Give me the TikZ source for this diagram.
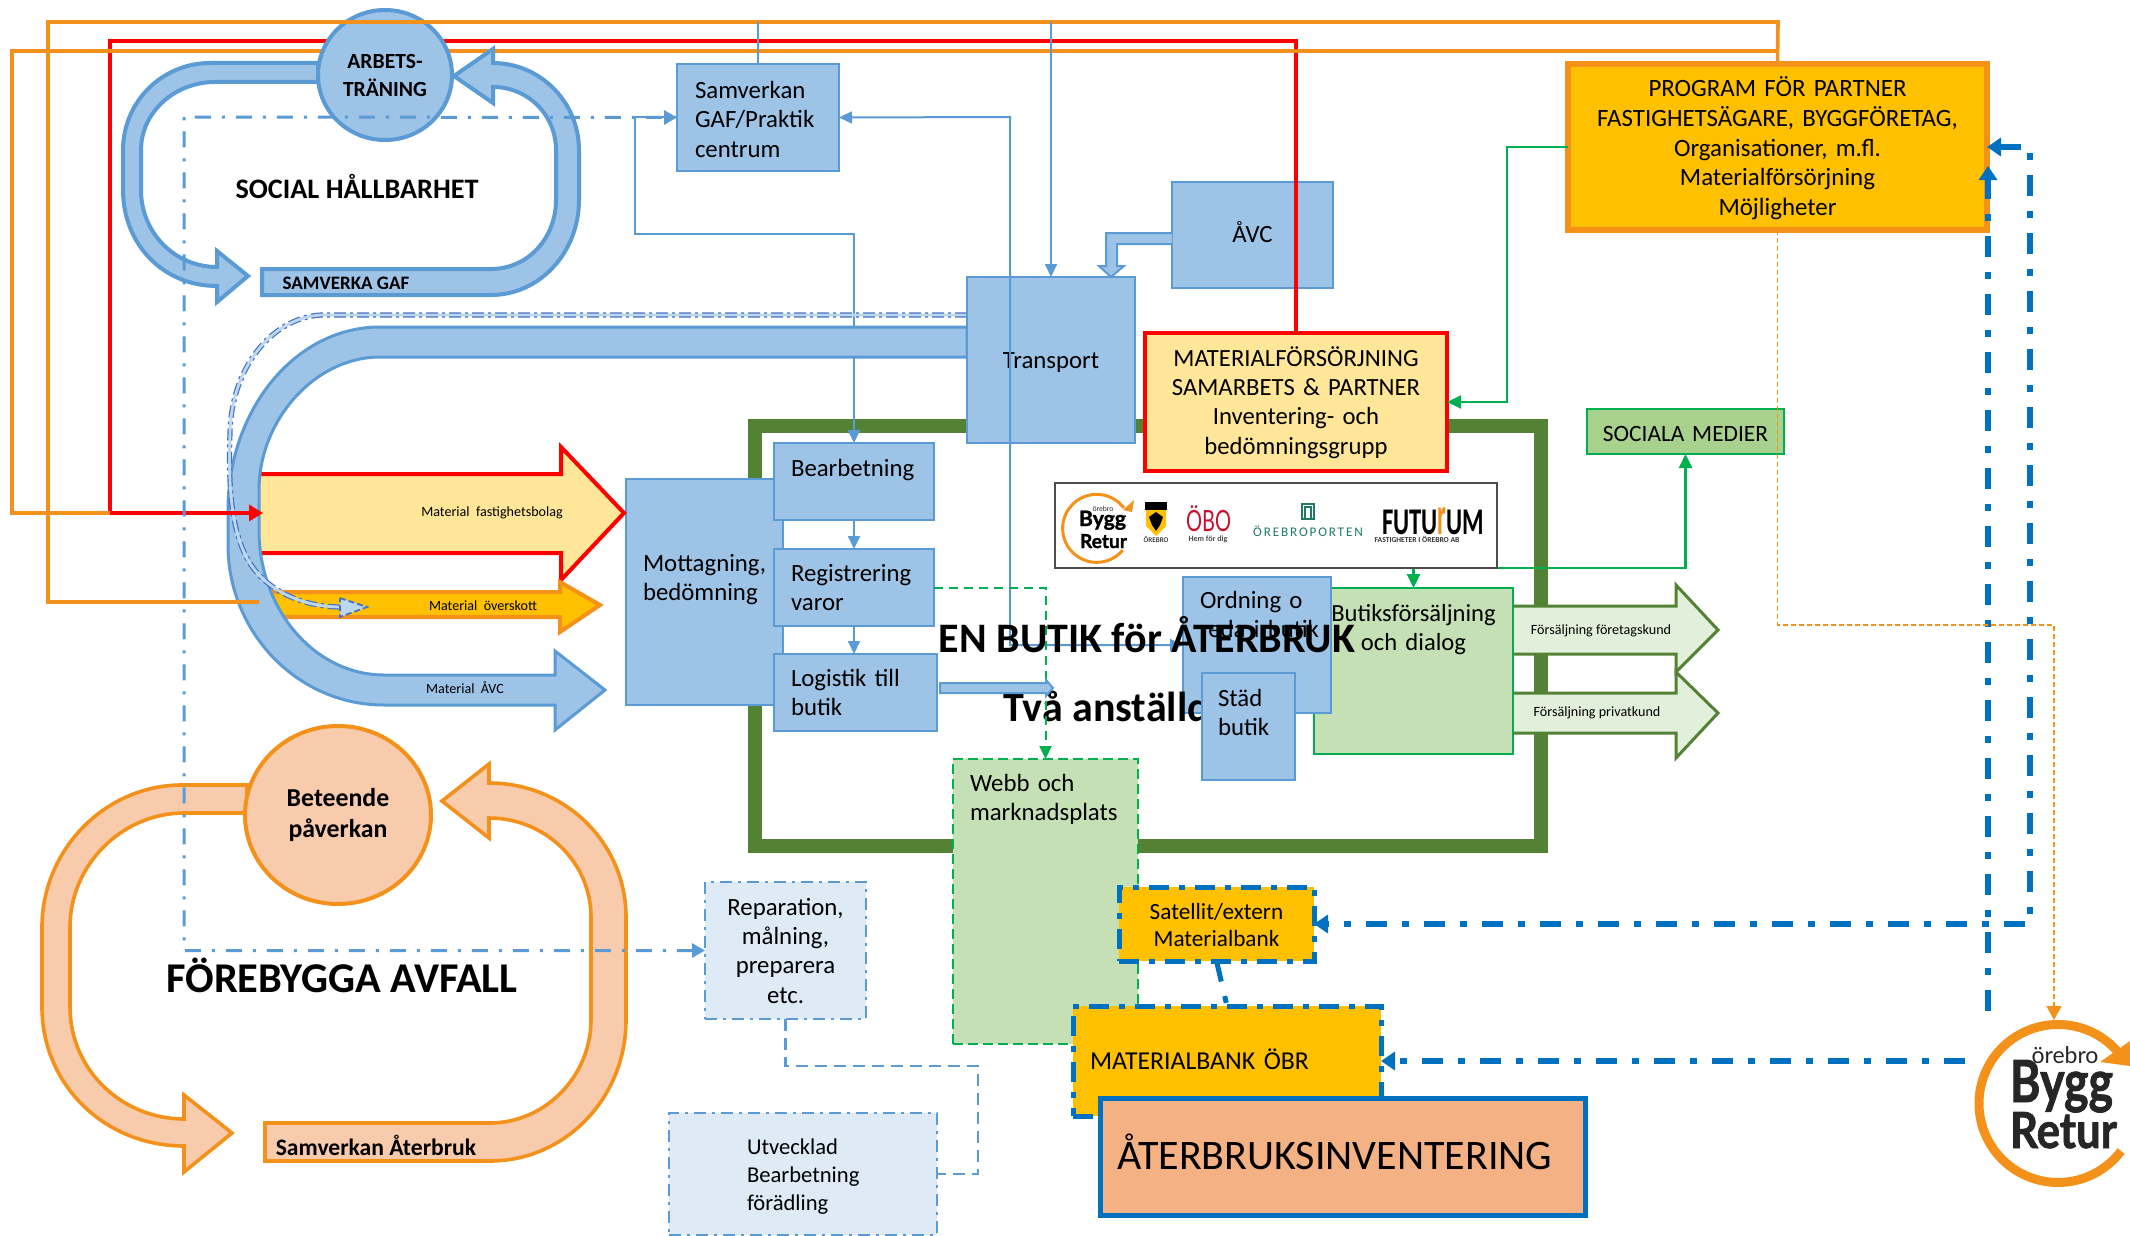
\documentclass[tikz,border=0pt]{standalone}
\usepackage{fontspec}
\usepackage{graphicx}
\setmainfont{Carlito}
\newfontfamily\logofont{Lato}
\newfontfamily\heavyfont{Lato}[BoldFeatures={FakeBold=1.5}]
\newfontfamily\spacedfont[LetterSpace=14]{Carlito}
\usetikzlibrary{arrows.meta,shapes.geometric}
\definecolor{bfill}{HTML}{9DC3E6}
\definecolor{bline}{HTML}{5B9BD5}
\definecolor{bpale}{HTML}{DEEBF7}
\definecolor{dblue}{HTML}{0070C0}
\definecolor{indigo}{HTML}{4472C4}
\definecolor{glass}{HTML}{BDD7EE}
\definecolor{forest}{HTML}{548235}
\definecolor{gfill}{HTML}{C5E0B4}
\definecolor{gmid}{HTML}{A9D18E}
\definecolor{gpale}{HTML}{E2EFDA}
\definecolor{gline}{HTML}{00B050}
\definecolor{orng}{HTML}{F4911A}
\definecolor{amber}{HTML}{FFC000}
\definecolor{pyellow}{HTML}{FFE699}
\definecolor{peach}{HTML}{F8CBAD}
\definecolor{salmon}{HTML}{F4B183}
\definecolor{teal}{HTML}{1F7A68}
\definecolor{crimson}{HTML}{C8102E}
\definecolor{rubric}{HTML}{FF0000}
\newcommand{\bx}[9]{%
  \pgfmathsetmacro\bxw{(#5-#3)*0.5}%
  \pgfmathsetmacro\bxh{(#7+1.5-#4)*0.5}%
  \pgfmathsetmacro\bxd{(#6-#7-1.5)*0.5}%
  \pgfmathsetmacro\bxl{#8*0.5}%
  \pgfmathsetmacro\bxcx{(#3+#5)/2}%
  \pgfmathsetmacro\bxcy{(#4+#6)/2}%
  \node[inner sep=0pt,outer sep=0pt,text width=\bxw pt,text height=\bxh pt,text depth=\bxd pt,#1] (#2) at (\bxcx,\bxcy) {#9};%
}
\newcommand{\fs}[2]{\fontsize{#1}{#2}\selectfont}
\tikzset{
  tleft/.style={execute at begin node={\leftskip=\bxl pt\rightskip=0pt plus 1fil\relax}},
  tmid/.style={align=center},
  bluebox/.style={draw=bline,fill=bfill,line width=1pt,font=\fs{12.4}{14.7}},
  linkb/.style={draw=bline,line width=1pt},
  tipb/.style={-{Triangle[length=6.5pt,width=6pt]}},
  linkg/.style={draw=gline,line width=1pt},
  thickblue/.style={draw=dblue,line width=3pt,dash pattern=on 10.5pt off 7.5pt on 3.5pt off 7.5pt},
  paledash/.style={draw=bline,line width=1.5pt,dash pattern=on 8pt off 5.5pt on 1.5pt off 5.5pt},
  paleedge/.style={draw=bline,line width=1pt,fill=bpale,dash pattern=on 6pt off 3pt on 1.5pt off 3pt},
  bloop/.style={draw=bline,fill=bfill,line width=2pt,line join=miter},
  oloop/.style={draw=orng,fill=peach,line width=1.8pt,line join=miter},
  wide/.style={line width=2pt,line join=miter},
  small/.style={font=\fs{7.05}{8}},
  logotext/.style={inner sep=0pt,outer sep=0pt,anchor=base},
}
\begin{document}
\begin{tikzpicture}[x=0.5pt,y=-0.5pt]
\path[use as bounding box,fill=white] (0,0) rectangle (2130,1236);
\clip (0,0) rectangle (2130,1236);
% named free coordinates
\coordinate (topA) at (1778,22);
\coordinate (topRed) at (110,41);
\coordinate (topB) at (12,51);
\coordinate (redIn) at (263,513);
\coordinate (orIn) at (259,602);
\coordinate (xdash) at (184,117);
\coordinate (xmid) at (1010,117);
\coordinate (xsamv) at (635,234);
\coordinate (xgreen) at (1507,146);
\coordinate (ysoc) at (1000,568);
\coordinate (xthick) at (2030,147);
\coordinate (bl1) at (1988,1011);
\coordinate (bl2) at (1988,166);
\coordinate (bl3) at (1965,1061);
\coordinate (logotop) at (2054,1020);
\coordinate (dashturn) at (2054,625);
\coordinate (repturn) at (978,1066);

% green frame
\draw[forest,line width=7pt] (755,426) rectangle (1541,846);

% processing column
\bx{bluebox,tleft}{motta}{626}{479}{783}{705}{570}{17}{Mottagning,\\bedömning}
\bx{bluebox,tleft}{bearb}{774}{443}{934}{520}{475}{17}{Bearbetning}
\bx{bluebox,tleft}{regis}{774}{549}{934}{626}{580}{17}{Registrering\\varor}
\bx{bluebox,tleft}{logis}{774}{654}{937}{731}{685}{17}{Logistik till\\butik}
\draw[linkb,tipb] (bearb.south) -- (regis.north);
\draw[linkb,tipb] (regis.south) -- (regis.south |- logis.north);

% material arrows behind the band
\draw[draw=rubric,fill=pyellow,line width=2pt,line join=miter] (245,474) -- (561,474) -- (561,447) -- (624,513) -- (561,580) -- (561,553) -- (245,553);
\node[small,anchor=center] (matfast) at (492,513) {Material\ \ fastighetsbolag};
\draw[draw=orng,fill=amber,wide] (250,592) -- (560,592) -- (560,582) -- (600,605) -- (560,632) -- (560,617) -- (250,617) -- cycle;
\node[small,anchor=center] (matover) at (483,606) {Material\ \ överskott};

% Samverkan box and its links to the process
\bx{bluebox,tleft}{samv}{677}{64}{839}{171}{97}{18}{Samverkan\\GAF/Praktik\\centrum}
\draw[linkb,tipb] (samv.west) -- (samv.west -| xsamv) -- (xsamv) -- (xsamv -| bearb.north) -- (bearb.north);

% big U band
\draw[bloop,line width=1.5pt] (967,327) -- (380,327) .. controls (295,327) and (228,410) .. (228,510) -- (228,545) .. controls (228,632) and (297,705) .. (384,705) -- (555,705) -- (555,730) -- (605,690) -- (555,651) -- (555,675) -- (384,675) .. controls (315,675) and (259,610) .. (259,530) -- (259,490) .. controls (259,420) and (315,357) .. (380,357) -- (967,357) -- cycle;
\node[small,anchor=center] (matavc) at (465,688) {Material\ \ ÅVC};

% double dash-dot transport route
\draw[draw=indigo,line width=2.6pt,dash pattern=on 6pt off 2pt on 1.5pt off 2pt] (967,315) -- (321,315) .. controls (270,318) and (231,370) .. (230,433) .. controls (228,490) and (232,532) .. (248,560) .. controls (262,585) and (295,607) .. (342,607);
\draw[draw=glass,line width=1.4pt] (967,315) -- (321,315) .. controls (270,318) and (231,370) .. (230,433) .. controls (228,490) and (232,532) .. (248,560) .. controls (262,585) and (295,607) .. (342,607);
\draw[draw=indigo,fill=glass,line width=0.9pt,dash pattern=on 3pt off 1.5pt] (340,598) -- (367,607) -- (340,617) -- cycle;

% transport
\bx{bluebox,tmid}{transp}{967}{277}{1135}{443}{367}{0}{Transport}
\bx{bluebox,tmid}{avc}{1172}{182}{1333}{288}{241}{0}{ÅVC}
\bx{draw=rubric,fill=pyellow,line width=2pt,tmid,font=\fs{12.35}{14.6}}{mat}{1145}{333}{1447}{471}{365}{0}{MATERIALFÖRSÖRJNING\\SAMARBETS \& PARTNER\\Inventering- och\\bedömningsgrupp}
\bx{draw=orng,fill=amber,line width=2.7pt,tmid,font=\fs{12.45}{14.9}}{prog}{1568}{64}{1987}{230}{95}{0}{PROGRAM FÖR PARTNER\\FASTIGHETSÄGARE, BYGGFÖRETAG,\\Organisationer, m.fl.\\Materialförsörjning\\Möjligheter}
\draw[draw=bline,fill=bfill,line width=1pt] (avc.west |- 0,233) -- (1106,233) -- (1106,266) -- (1099,266) -- (1111,277) -- (1124,266) -- (1117,266) -- (1117,244) -- (avc.west |- 0,244);

% red and lower orange routes
\draw[draw=rubric,line width=1.7pt,-{Triangle[length=7pt,width=8pt]}] (mat.north) -- (mat.north |- topRed) -- (topRed) -- (topRed |- redIn) -- (redIn);
\draw[draw=orng,line width=1.8pt] (prog.north) -- (prog.north |- topB) -- (topB) -- (topB |- redIn) -- (topRed |- redIn);

% social loop
\draw[bloop] (318,63) -- (210,63) .. controls (162,63) and (123,102) .. (123,150) -- (123,190) .. controls (123,243) and (162,286) .. (217,286) -- (217,302) -- (248,276) -- (217,251) -- (217,267) .. controls (175,267) and (141,233) .. (141,190) -- (141,150) .. controls (141,112) and (175,82) .. (215,82) -- (318,82) -- cycle;
\draw[bloop] (262,295) -- (491,295) .. controls (540,295) and (579,252) .. (579,200) -- (579,150) .. controls (579,102) and (540,63) .. (493,63) -- (493,49) -- (454,76) -- (493,103) -- (493,87) .. controls (528,87) and (556,115) .. (556,150) -- (556,200) .. controls (556,238) and (528,269) .. (491,269) -- (262,269) -- cycle;
\node[ellipse,draw=bline,fill=bfill,line width=2pt,inner sep=0pt,minimum width=67pt,minimum height=65pt,align=center,font=\fs{10.8}{14}\bfseries] (arbets) at (385,75) {ARBETS-\\TRÄNING};
\node[anchor=center,font=\fs{14.1}{16}\bfseries] (socialh) at (357,186) {SOCIAL HÅLLBARHET};
\node[anchor=center,font=\fs{9.5}{11}\bfseries] (samvgaf) at (346,283) {SAMVERKA GAF};

% upper orange route, over the ellipse
\draw[draw=orng,line width=1.8pt] (prog.north) -- (topA) -- (topA -| 48,0) -- (48,0 |- orIn) -- (orIn);

% links from Samverkan
\draw[linkb] (topA -| samv.north) -- (samv.north);
\draw[linkb,tipb] (topA -| transp.north) -- (transp.north);

% prevention loop
\draw[oloop] (247,785) -- (182,785) .. controls (105,785) and (42,850) .. (42,927) -- (42,1007) .. controls (42,1085) and (105,1146) .. (184,1146) -- (184,1172) -- (232,1133) -- (184,1095) -- (184,1119) .. controls (122,1119) and (70,1070) .. (70,1007) -- (70,927) .. controls (70,865) and (122,813) .. (184,813) -- (247,813) -- cycle;
\draw[oloop] (265,1161) -- (490,1161) .. controls (565,1161) and (626,1098) .. (626,1020) -- (626,917) .. controls (626,843) and (565,783) .. (489,783) -- (489,764) -- (442,801) -- (489,838) -- (489,818) .. controls (545,818) and (591,862) .. (591,917) -- (591,1020) .. controls (591,1076) and (545,1123) .. (490,1123) -- (265,1123) -- cycle;
\node[ellipse,draw=orng,fill=peach,line width=2pt,inner sep=0pt,minimum width=93pt,minimum height=89pt,align=center,font=\fs{12.9}{15.5}\bfseries] (beteende) at (338,815) {Beteende\\påverkan};
\node[anchor=center,font=\fs{21.2}{23}\bfseries] (forebygga) at (342,975) {FÖREBYGGA AVFALL};
\node[anchor=center,font=\fs{11.8}{13}\bfseries] (samvat) at (376,1145) {Samverkan Återbruk};

% pale boxes and dash-dot link
\bx{paleedge,tmid,font=\fs{12.4}{14.6}}{repar}{705}{882}{866}{1019}{914}{0}{Reparation,\\målning,\\preparera\\etc.}
\bx{paleedge,tleft,font=\fs{11.3}{14}}{utv}{669}{1113}{937}{1235}{1153}{78}{Utvecklad\\Bearbetning\\förädling}
\draw[paledash,{Triangle[length=6.5pt,width=7pt]}-{Triangle[length=6.5pt,width=7pt]}] (repar.west) -- (repar.west -| xdash) -- (xdash) -- (samv.west);
\draw[draw=bline,line width=1.3pt,dash pattern=on 6pt off 3.5pt] (repar.south) -- (repar.south |- repturn) -- (repturn) -- (repturn |- utv.east) -- (utv.east);

% shop
\bx{draw=gline,fill=gfill,line width=1pt,tmid,font=\fs{12.3}{14.7}}{butik}{1314}{588}{1513}{754}{620}{0}{Butiksförsäljning\\och dialog}
\bx{bluebox,tleft}{ordning}{1183}{577}{1331}{713}{607}{17}{Ordning o\\reda i butik}
\draw[linkb,{Triangle[length=6.5pt,width=6pt]}-{Triangle[length=6.5pt,width=6pt]}] (samv.east) -- (xmid) -- (xmid |- ordning.west) -- (ordning.west);
\node[anchor=base west,inner sep=0pt,font=\fs{21}{23}\bfseries] (tva) at (1003,721) {Två anställda};
\bx{bluebox,tleft}{stad}{1202}{673}{1295}{780}{705}{16}{Städ\\butik}

% webb
\bx{draw=gline,fill=gfill,line width=1pt,dash pattern=on 5pt off 2.5pt,tleft,font=\fs{12.4}{14.7}}{webb}{953}{759}{1138}{1044}{790}{17}{Webb och\\marknadsplats}
\draw[draw=gline,line width=1pt,dash pattern=on 4.5pt off 3pt,tipb] (regis.east) -| (webb.north);
\draw[draw=bline,fill=bfill,line width=1pt] (940,683) -- (1046,683) -- (1046,680) -- (1053,688) -- (1046,696) -- (1046,693) -- (940,693) -- cycle;
\node[anchor=center,font=\fs{21}{23}\bfseries] (enbutik) at (1147,635) {EN BUTIK för ÅTERBRUK};

% sale arrows
\draw[draw=forest,fill=gpale,wide,line width=1.5pt] (1514,606) -- (1676,606) -- (1676,585) -- (1718,630) -- (1676,672) -- (1676,654) -- (1514,654);
\draw[draw=forest,fill=gpale,wide,line width=1.5pt] (1514,693) -- (1676,693) -- (1676,672) -- (1718,713) -- (1676,758) -- (1676,733) -- (1514,733);
\node[anchor=center,font=\fs{7.05}{8}] (sale1) at (1601,631) {Försäljning företagskund};
\node[anchor=center,font=\fs{7.05}{8}] (sale2) at (1597,713) {Försäljning privatkund};

% social media
\bx{draw=gline,fill=gmid,line width=1.2pt,tmid,font=\fs{11.7}{13}}{soc}{1587}{409}{1784}{454}{440}{0}{SOCIALA MEDIER}
\draw[draw=gline,line width=1.2pt,{Triangle[length=7pt,width=6.5pt]}-{Triangle[length=7pt,width=6.5pt]}] (soc.south) -- (soc.south |- ysoc) -- (butik.north |- ysoc) -- (butik.north);
\draw[linkg,-{Triangle[length=7pt,width=6.5pt]}] (prog.west) -- (prog.west -| xgreen) -- (xgreen |- mat.east) -- (mat.east);

% logo strip
\draw[draw=black!70,fill=white,line width=0.6pt] (1055,483) rectangle (1497,568);
\draw[orng,line width=1.5pt] (1123.8,507.9) arc[start angle=37,end angle=320,radius=17pt];
\fill[orng] (1123,510) -- (1134,500) -- (1132,512) -- cycle;
\node[logotext,font=\fs{3.6}{4}\logofont,text=black!85] (lgo1) at (1103,511) {örebro};
\node[logotext] (lgo2) at (1102.5,526) {\resizebox{23.5pt}{!}{\heavyfont\bfseries Bygg}};
\node[logotext] (lgo3) at (1103.5,548) {\resizebox{23.5pt}{!}{\heavyfont\bfseries Retur}};
\fill[black] (1145,502) rectangle (1167,510);
\fill[amber] (1146,510) -- (1166,510) -- (1166,526) -- (1156,536) -- (1146,526) -- cycle;
\fill[black] (1156,512) -- (1163,517) -- (1160,525) -- (1156,531) -- (1152,525) -- (1149,517) -- cycle;
\node[logotext,font=\fs{3.6}{4}] (lgo4) at (1156,542) {ÖREBRO};
\node[logotext,text=crimson] (lgo5) at (1208.5,531) {\resizebox{22.5pt}{13pt}{\logofont ÖBO}};
\node[logotext,font=\fs{4}{5}\bfseries,text=black!70] (lgo6) at (1208,541) {Hem för dig};
\draw[teal,line width=0.8pt] (1302,504) rectangle (1314,519);
\draw[teal,line width=0.6pt] (1305,519) -- (1305,507) -- (1311,507) -- (1311,519);
\node[logotext,font=\fs{6.6}{8}\spacedfont,text=teal] (lgo7) at (1308,536) {ÖREBROPORTEN};
\node[logotext] (lgo8) at (1433,534) {\resizebox{51pt}{13.5pt}{\bfseries FUTU\textcolor{orng}{\scalebox{1}[1.45]{r}}UM}};
\node[logotext,font=\fs{3.8}{4}\bfseries,text=black!80] (lgo9) at (1417,542) {FASTIGHETER I ÖREBRO AB};

% materialbank
\tikzset{bankedge/.style={draw=dblue,fill=amber,line width=2.5pt,dash pattern=on 10pt off 5pt on 3pt off 5pt}}
\bx{bankedge,tmid,font=\fs{11.6}{13.5}}{sat}{1119}{887}{1314}{961}{918}{0}{Satellit/extern\\Materialbank}
\bx{bankedge,tleft,font=\fs{12.9}{14}}{matb}{1073}{1006}{1381}{1116}{1068}{17}{MATERIALBANK ÖBR}
\bx{draw=dblue,fill=salmon,line width=2.5pt,tleft,font=\fs{21}{23}}{aterbruk}{1100}{1098}{1585}{1215}{1168}{17}{ÅTERBRUKSINVENTERING}
\draw[thickblue,line width=2.5pt] (sat.south) -- (matb.north);

% thick blue routes
\draw[thickblue,{Triangle[length=7pt,width=9pt]}-{Triangle[length=7pt,width=9pt]}] (prog.east) -- (prog.east -| xthick) -- (xthick |- sat.east) -- (sat.east);
\draw[thickblue,-{Triangle[length=7pt,width=9pt]}] (bl1) -- (bl2);
\draw[thickblue,-{Triangle[length=7pt,width=9pt]}] (bl3) -- (matb.east);

% orange thin dashed route
\draw[draw=orng,line width=0.8pt,dash pattern=on 2.5pt off 1.5pt,-{Triangle[length=7pt,width=7.5pt]}] (prog.south) -- (prog.south |- dashturn) -- (dashturn) -- (logotop);

% big logo
\draw[orng,line width=4.5pt] (2118.5,1052.7) arc[start angle=40,end angle=323,radius=39.5pt];
\fill[orng] (2100,1062) -- (2130,1041) -- (2130,1066) -- cycle;
\node[logotext,font=\fs{11.5}{14}\logofont,text=black!85] (bg1) at (2065,1063) {örebro};
\node[logotext,text=black!85] (bg2) at (2061.5,1102) {\resizebox{51.5pt}{21pt}{\heavyfont\bfseries Bygg}};
\node[logotext,text=black!85] (bg3) at (2063.5,1148) {\resizebox{53.5pt}{18pt}{\heavyfont\bfseries Retur}};
\end{tikzpicture}
\end{document}
